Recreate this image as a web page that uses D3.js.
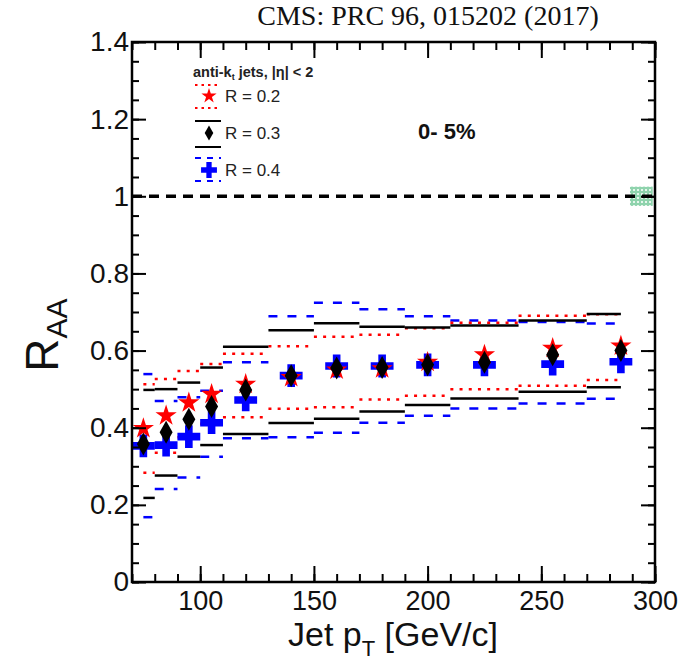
<!DOCTYPE html>
<html>
<head>
<meta charset="utf-8">
<script src="https://cdn.jsdelivr.net/npm/d3@7"></script>
<style>
  body { margin: 0; background: #fff; }
  svg { display: block; font-family: "Liberation Sans", Arial, Helvetica, sans-serif; }
</style>
</head>
<body>
<svg id="chart"></svg>
<script>
// jet pT bins (GeV/c): marker position and the extent of the syst. lines
const ptCenter = [75, 85, 95, 105, 120, 140, 160, 180, 200, 225, 255, 285];
const binLow   = [75, 80, 90, 100, 110, 130, 150, 170, 190, 210, 240, 270];
const binHigh  = [80, 90, 100, 110, 130, 150, 170, 190, 210, 240, 270, 285];

// R = 0.2
const raaR02    = [0.398, 0.431, 0.465, 0.487, 0.513, 0.530, 0.550, 0.553, 0.570, 0.589, 0.606, 0.612];
const sysUpR02  = [0.513, 0.526, 0.547, 0.565, 0.592, 0.611, 0.636, 0.641, 0.658, 0.672, 0.690, 0.694];
const sysLowR02 = [0.283, 0.335, 0.375, 0.410, 0.427, 0.449, 0.453, 0.473, 0.483, 0.500, 0.509, 0.524];

// R = 0.3
const raaR03    = [0.358, 0.388, 0.422, 0.455, 0.498, 0.535, 0.555, 0.556, 0.563, 0.570, 0.589, 0.600];
const sysUpR03  = [0.498, 0.500, 0.517, 0.556, 0.610, 0.653, 0.671, 0.662, 0.660, 0.665, 0.678, 0.695];
const sysLowR03 = [0.218, 0.276, 0.325, 0.355, 0.384, 0.412, 0.423, 0.442, 0.459, 0.476, 0.493, 0.505];

// R = 0.4
const raaR04    = [0.353, 0.355, 0.377, 0.413, 0.472, 0.535, 0.560, 0.560, 0.563, 0.563, 0.565, 0.571];
const sysUpR04  = [0.539, 0.469, 0.479, 0.496, 0.570, 0.689, 0.724, 0.707, 0.689, 0.678, 0.674, 0.670];
const sysLowR04 = [0.168, 0.241, 0.271, 0.325, 0.373, 0.375, 0.387, 0.413, 0.431, 0.450, 0.463, 0.475];

// normalisation uncertainty box at unity
const normBox = { x0: 289, x1: 299, y0: 0.975, y1: 1.025 };

const xTicksMajor = [100, 150, 200, 250, 300];
const xTicksMinor = d3.range(70, 301, 10);
const yTicksMajor = [0, 0.2, 0.4, 0.6, 0.8, 1.0, 1.2, 1.4];
const yTickLabels = ["0", "0.2", "0.4", "0.6", "0.8", "1", "1.2", "1.4"];
const yTicksMinor = d3.range(0, 29).map(i => +(i * 0.05).toFixed(2));

const SANS = "Liberation Sans, Arial, Helvetica, sans-serif";
const W = 680, H = 664;
const box = { left: 132, right: 655, top: 42, bottom: 582 };

const svg = d3.select("#chart").attr("width", W).attr("height", H);

const x = d3.scaleLinear().domain([70, 300]).range([box.left, box.right]);
const y = d3.scaleLinear().domain([0, 1.4]).range([box.bottom, box.top]);

// --- marker shapes
const starPath = s => d3.symbol(d3.symbolStar).size(s)();
const crossPath = s => d3.symbol(d3.symbolCross).size(s)();
const diamondPath = (w, h) => `M0,${-h}L${w},0L0,${h}L${-w},0Z`;

const series = [
  { name: "R = 0.4", raa: raaR04, up: sysUpR04, low: sysLowR04, color: "#0000ff", dash: "9,10",
    legDash: "6,6", marker: crossPath(290), legMarker: crossPath(140) },
  { name: "R = 0.2", raa: raaR02, up: sysUpR02, low: sysLowR02, color: "#ff0000", dash: "3,6.2",
    legDash: "2.5,4", marker: starPath(140), legMarker: starPath(72) },
  { name: "R = 0.3", raa: raaR03, up: sysUpR03, low: sysLowR03, color: "#000000", dash: null,
    legDash: null, marker: diamondPath(6.5, 11.5), legMarker: diamondPath(4.3, 7.5) }
];

// --- green hatched normalisation box
const defs = svg.append("defs");
const pat = defs.append("pattern").attr("id", "hatch")
  .attr("patternUnits", "userSpaceOnUse").attr("width", 4).attr("height", 4);
pat.append("rect").attr("width", 4).attr("height", 4).attr("fill", "#8fd3ad");
pat.append("rect").attr("x", 1).attr("y", 1).attr("width", 2).attr("height", 2).attr("fill", "#e6f6ec");

svg.append("rect")
  .attr("x", x(normBox.x0)).attr("y", y(normBox.y1))
  .attr("width", x(normBox.x1) - x(normBox.x0))
  .attr("height", y(normBox.y0) - y(normBox.y1))
  .attr("fill", "url(#hatch)");

// unity line
svg.append("line")
  .attr("x1", x(70)).attr("x2", x(300)).attr("y1", y(1)).attr("y2", y(1))
  .attr("stroke", "#000").attr("stroke-width", 3.5).attr("stroke-dasharray", "10,7");

// --- systematic bands drawn as upper/lower lines over each bin
series.forEach(s => {
  ["up", "low"].forEach(k => {
    svg.append("g").selectAll("line")
      .data(ptCenter.map((p, i) => ({ lo: binLow[i], hi: binHigh[i], v: s[k][i] })))
      .join("line")
        .attr("x1", d => x(d.lo)).attr("x2", d => x(d.hi))
        .attr("y1", d => y(d.v)).attr("y2", d => y(d.v))
        .attr("stroke", s.color).attr("stroke-width", 2.5)
        .attr("stroke-dasharray", s.dash);
  });
});

// --- markers
series.forEach(s => {
  svg.append("g").selectAll("path")
    .data(ptCenter.map((p, i) => ({ p, v: s.raa[i] })))
    .join("path")
      .attr("d", s.marker)
      .attr("transform", d => `translate(${x(d.p)},${y(d.v)})`)
      .attr("fill", s.color);
});

// --- axes (ROOT style, ticks inside on all four sides)
function styleAxis(g) {
  g.select(".domain").remove();
  g.selectAll(".tick line").attr("stroke", "#000").attr("stroke-width", 2);
}

svg.append("g").attr("transform", `translate(0,${box.bottom})`)
  .call(d3.axisBottom(x).tickValues(xTicksMinor).tickSize(-8).tickFormat(""))
  .call(styleAxis);
svg.append("g").attr("transform", `translate(0,${box.bottom})`)
  .call(d3.axisBottom(x).tickValues(xTicksMajor).tickSize(-16).tickPadding(9).tickFormat(d3.format("d")))
  .call(styleAxis)
  .call(g => g.attr("font-family", SANS).attr("font-size", 27)
    .selectAll("text").attr("fill", "#111"));

svg.append("g").attr("transform", `translate(0,${box.top})`)
  .call(d3.axisTop(x).tickValues(xTicksMinor).tickSize(-8).tickFormat(""))
  .call(styleAxis);
svg.append("g").attr("transform", `translate(0,${box.top})`)
  .call(d3.axisTop(x).tickValues(xTicksMajor).tickSize(-16).tickFormat(""))
  .call(styleAxis);

svg.append("g").attr("transform", `translate(${box.left},0)`)
  .call(d3.axisLeft(y).tickValues(yTicksMinor).tickSize(-7).tickFormat(""))
  .call(styleAxis);
svg.append("g").attr("transform", `translate(${box.left},0)`)
  .call(d3.axisLeft(y).tickValues(yTicksMajor).tickSize(-14).tickPadding(3)
    .tickFormat((d, i) => yTickLabels[i]))
  .call(styleAxis)
  .call(g => g.attr("font-family", SANS).attr("font-size", 28)
    .selectAll("text").attr("fill", "#111"));

svg.append("g").attr("transform", `translate(${box.right},0)`)
  .call(d3.axisRight(y).tickValues(yTicksMinor).tickSize(-7).tickFormat(""))
  .call(styleAxis);
svg.append("g").attr("transform", `translate(${box.right},0)`)
  .call(d3.axisRight(y).tickValues(yTicksMajor).tickSize(-14).tickFormat(""))
  .call(styleAxis);

// frame
svg.append("rect")
  .attr("x", box.left).attr("y", box.top)
  .attr("width", box.right - box.left).attr("height", box.bottom - box.top)
  .attr("fill", "none").attr("stroke", "#000").attr("stroke-width", 2.5);

// --- axis titles
const xt = svg.append("text").attr("x", 393).attr("y", 646)
  .attr("text-anchor", "middle").attr("font-size", 34).attr("fill", "#111");
xt.append("tspan").text("Jet p");
xt.append("tspan").attr("font-size", 22).attr("dy", 10).text("T");
xt.append("tspan").attr("dy", -10).text(" [GeV/c]");

const yt = svg.append("text")
  .attr("transform", "translate(58,335) rotate(-90)")
  .attr("text-anchor", "middle").attr("font-size", 46).attr("fill", "#111");
yt.append("tspan").text("R");
yt.append("tspan").attr("font-size", 30).attr("dy", 9).text("AA");

// reference title
svg.append("text").attr("x", 428).attr("y", 25)
  .attr("text-anchor", "middle").attr("font-size", 28)
  .attr("font-family", "Liberation Serif, Times New Roman, serif").attr("fill", "#111")
  .text("CMS: PRC 96, 015202 (2017)");

// centrality label
svg.append("text").attr("x", 418).attr("y", 139)
  .attr("font-size", 22).attr("font-weight", "bold").attr("fill", "#111")
  .text("0- 5%");

// --- legend
const lg = svg.append("g");
const head = lg.append("text").attr("x", 193).attr("y", 77)
  .attr("font-size", 14.5).attr("font-weight", "bold").attr("fill", "#222");
head.append("tspan").text("anti-k");
head.append("tspan").attr("font-size", 9).attr("dy", 3).text("t");
head.append("tspan").attr("dy", -3).text(" jets, |η| < 2");

const legRows = [
  { s: series[1], cy: 96, lineUp: 85, lineLow: 108 },
  { s: series[2], cy: 133, lineUp: 121, lineLow: 147 },
  { s: series[0], cy: 170, lineUp: 158, lineLow: 181 }
];
legRows.forEach(r => {
  [r.lineUp, r.lineLow].forEach(ly => {
    lg.append("line").attr("x1", 195).attr("x2", 221).attr("y1", ly).attr("y2", ly)
      .attr("stroke", r.s.color).attr("stroke-width", 2)
      .attr("stroke-dasharray", r.s.legDash);
  });
  lg.append("path").attr("d", r.s.legMarker)
    .attr("transform", `translate(209,${r.cy})`).attr("fill", r.s.color);
  lg.append("text").attr("x", 225).attr("y", r.cy + 6)
    .attr("font-size", 17).attr("fill", "#222").text(r.s.name);
});
</script>
</body>
</html>
